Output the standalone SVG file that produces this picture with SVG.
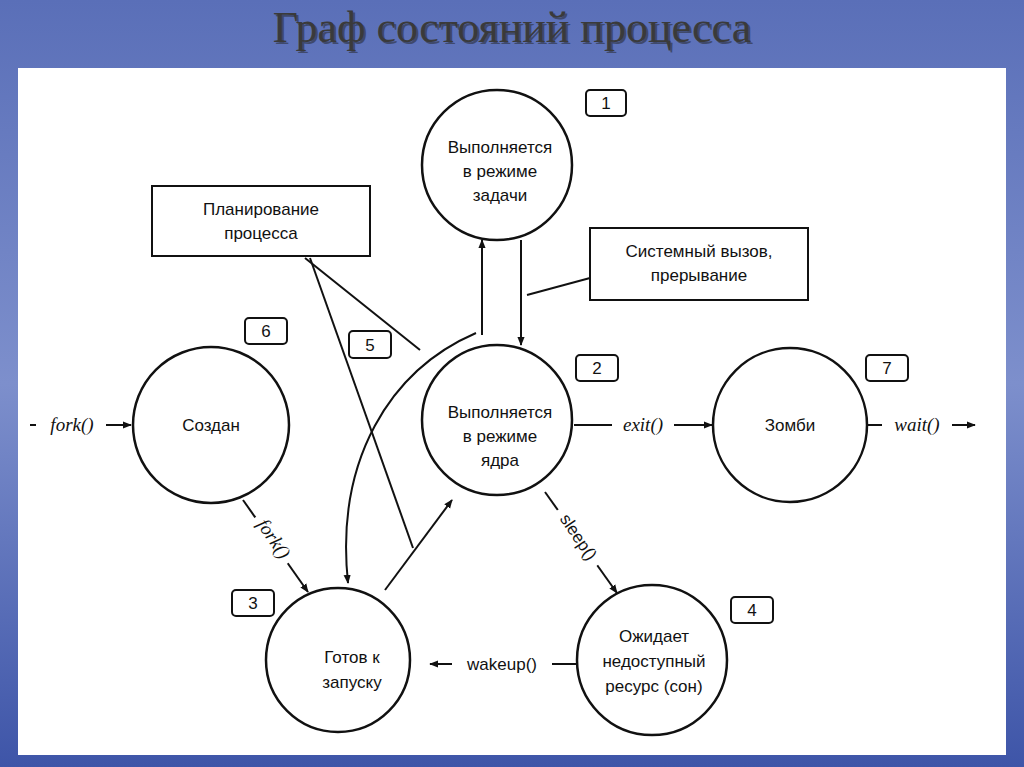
<svg xmlns="http://www.w3.org/2000/svg" width="1024" height="767" viewBox="0 0 1024 767">
<defs>
<linearGradient id="bg" x1="0" y1="0" x2="0" y2="1"><stop offset="0" stop-color="#5a6fb8"/><stop offset="0.5" stop-color="#7d8fcc"/><stop offset="1" stop-color="#3e55a8"/></linearGradient>
<marker id="ah" viewBox="0 0 10 10" refX="9" refY="5" markerWidth="9" markerHeight="9" orient="auto-start-reverse" markerUnits="userSpaceOnUse"><path d="M0,1 L10,5 L0,9 Z" fill="#111"/></marker>
</defs>
<style>
.c{fill:#fff;stroke:#111;stroke-width:2.5}
.b{fill:#fff;stroke:#111;stroke-width:2}
.t{font-family:"Liberation Sans",Arial,sans-serif;font-size:17px;fill:#111;text-anchor:middle}
.i{font-family:"Liberation Serif",serif;font-style:italic;font-size:19px;fill:#111;text-anchor:middle}
.l{stroke:#111;stroke-width:2;fill:none}
.a{stroke:#111;stroke-width:2;fill:none;marker-end:url(#ah)}
</style>
<rect width="1024" height="767" fill="url(#bg)"/>
<text x="514" y="44" font-family="Liberation Serif,serif" font-size="44" fill="#222" text-anchor="middle" opacity="0.5">Граф состояний процесса</text>
<text x="512" y="42" font-family="Liberation Serif,serif" font-size="44" fill="#3a3a3a" text-anchor="middle">Граф состояний процесса</text>
<rect x="18" y="68" width="988" height="687" fill="#fff"/>
<g id="connectors">
<line class="a" x1="482" y1="335" x2="482" y2="240"/>
<line class="a" x1="521" y1="240" x2="521" y2="345"/>
<line class="l" x1="590" y1="278" x2="527" y2="295"/>
<line class="l" x1="305" y1="258" x2="420" y2="350"/>
<line class="l" x1="310" y1="258" x2="413" y2="548"/>
<path class="a" d="M476,333 C390,370 335,460 348,583"/>
<line class="a" x1="385" y1="590" x2="452" y2="500"/>
<line class="a" x1="243" y1="500" x2="308" y2="592"/>
<line class="a" x1="545" y1="492" x2="617" y2="593"/>
<line class="a" x1="577" y1="664" x2="430" y2="664"/>
<line class="a" x1="30" y1="425" x2="131" y2="425"/>
<line class="a" x1="574" y1="425" x2="712" y2="425"/>
<line class="a" x1="868" y1="425" x2="975" y2="425"/>
<rect x="36" y="413" width="70" height="22" fill="#fff"/>
<text class="i" x="72" y="431">fork()</text>
<rect x="612" y="413" width="62" height="22" fill="#fff"/>
<text class="i" x="643" y="431">exit()</text>
<rect x="882" y="413" width="70" height="22" fill="#fff"/>
<text class="i" x="917" y="431">wait()</text>
<rect x="452" y="652" width="100" height="22" fill="#fff"/>
<text class="t" x="502" y="670">wakeup()</text>
<g transform="translate(272,540) rotate(56)"><rect x="-28" y="-14" width="56" height="22" fill="#fff"/><text class="i" x="0" y="4">fork()</text></g>
<g transform="translate(577,538) rotate(56)"><rect x="-34" y="-14" width="68" height="22" fill="#fff"/><text class="t" x="0" y="4">sleep()</text></g>
</g>
<g id="n1"><circle class="c" cx="497" cy="165" r="75"/><text class="t" x="500" y="153">Выполняется</text><text class="t" x="500" y="177">в режиме</text><text class="t" x="500" y="201">задачи</text></g>
<g id="n2"><circle class="c" cx="497" cy="420" r="75"/><text class="t" x="500" y="418">Выполняется</text><text class="t" x="500" y="442">в режиме</text><text class="t" x="500" y="466">ядра</text></g>
<g id="n6"><circle class="c" cx="211" cy="425" r="78"/><text class="t" x="211" y="431">Создан</text></g>
<g id="n7"><circle class="c" cx="790" cy="425" r="77"/><text class="t" x="790" y="431">Зомби</text></g>
<g id="n3"><circle class="c" cx="338" cy="660" r="72"/><text class="t" x="352" y="663">Готов к</text><text class="t" x="352" y="688">запуску</text></g>
<g id="n4"><circle class="c" cx="652" cy="660" r="75"/><text class="t" x="654" y="642">Ожидает</text><text class="t" x="654" y="667">недоступный</text><text class="t" x="654" y="692">ресурс (сон)</text></g>
<g id="plan"><rect class="b" x="152" y="186" width="218" height="70"/><text class="t" x="261" y="215">Планирование</text><text class="t" x="261" y="239">процесса</text></g>
<g id="sys"><rect class="b" x="590" y="228" width="218" height="72"/><text class="t" x="699" y="257">Системный вызов,</text><text class="t" x="699" y="281">прерывание</text></g>
<g id="b1"><rect class="b" x="586" y="90" width="40" height="26" rx="4"/><text class="t" x="606" y="109">1</text></g>
<g id="b2"><rect class="b" x="576" y="355" width="42" height="26" rx="4"/><text class="t" x="597" y="374">2</text></g>
<g id="b3"><rect class="b" x="232" y="590" width="42" height="26" rx="4"/><text class="t" x="253" y="609">3</text></g>
<g id="b4"><rect class="b" x="731" y="597" width="42" height="26" rx="4"/><text class="t" x="752" y="616">4</text></g>
<g id="b5"><rect class="b" x="349" y="331" width="42" height="27" rx="4"/><text class="t" x="370" y="351">5</text></g>
<g id="b6"><rect class="b" x="245" y="318" width="42" height="26" rx="4"/><text class="t" x="266" y="337">6</text></g>
<g id="b7"><rect class="b" x="866" y="355" width="42" height="26" rx="4"/><text class="t" x="887" y="374">7</text></g>
</svg>
